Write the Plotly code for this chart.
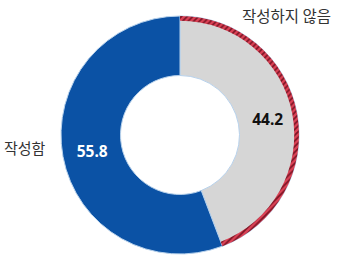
import plotly.graph_objects as go

labels = ["작성하지 않음", "작성함"]
values = [44.2, 55.8]
colors = ["#D6D6D6", "#0B52A5"]
text_colors = ["#111111", "#FFFFFF"]

W, H = 350, 274
cx, cy, r = 180, 135, 119
dom_x = [(cx - (W - cx)) / W, 1.0] if cx > W / 2 else [0.0, 2 * cx / W]
dom_y = [(H - cy - r) / H, (H - cy + r) / H]

fig = go.Figure()
fig.add_trace(go.Pie(
    labels=labels, values=values, sort=False, direction="clockwise", rotation=0,
    hole=0.5, domain=dict(x=dom_x, y=dom_y),
    marker=dict(colors=colors, line=dict(color="#B8D2EC", width=1)),
    text=[f"{v:.1f}" for v in values], textinfo="text",
    textposition="inside", insidetextorientation="horizontal",
    textfont=dict(family="Noto Sans", size=15.5, color=text_colors, weight="bold"),
    hoverinfo="skip", showlegend=False,
))
# red dashed rim on the "not written" slice
fig.add_trace(go.Pie(
    labels=labels, values=values, sort=False, direction="clockwise", rotation=0,
    hole=0.96, domain=dict(x=dom_x, y=dom_y),
    marker=dict(colors=["#D93A50", "rgba(0,0,0,0)"],
                pattern=dict(shape=["/", ""], fgcolor="#7A1424", bgcolor=["#DC4256", "rgba(0,0,0,0)"],
                             size=4, solidity=0.4),
                line=dict(width=0)),
    textinfo="none", hoverinfo="skip", showlegend=False,
))

fig.add_annotation(x=25 / W, y=1 - 147 / H, xref="paper", yref="paper", text=labels[1],
                   xanchor="center", yanchor="middle",
                   showarrow=False, font=dict(family="Noto Sans CJK KR", size=15, color="#333333"))
fig.add_annotation(x=286 / W, y=1 - 15 / H, xref="paper", yref="paper", text=labels[0],
                   xanchor="center", yanchor="middle",
                   showarrow=False, font=dict(family="Noto Sans CJK KR", size=15.5, color="#333333"))

fig.update_layout(width=W, height=H, margin=dict(l=0, r=0, t=0, b=0),
                  paper_bgcolor="white", plot_bgcolor="white")
fig.write_html("out.html")
